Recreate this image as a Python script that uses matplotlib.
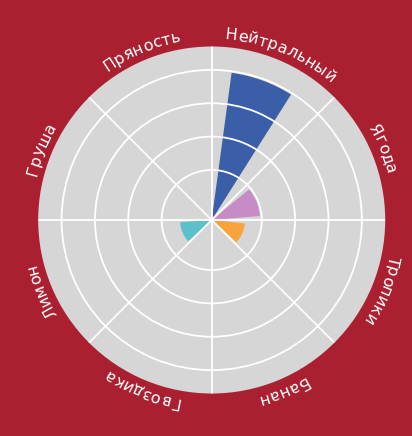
import numpy as np
import matplotlib
matplotlib.use('Agg')
import matplotlib.pyplot as plt
from matplotlib.textpath import TextToPath
from matplotlib.font_manager import FontProperties

# data
categories = ['Нейтральный', 'Ягода', 'Тропики', 'Банан',
              'Гвоздика', 'Лимон', 'Груша', 'Пряность']
values = [89, 29, 20, 0, 0, 19, 0, 0]
colors = ['#3A5FA8', '#C78BC6', '#F9A33C', '#F9A33C',
          '#5BC0C9', '#5BC0C9', '#5BC0C9', '#5BC0C9']
ring_ticks = [30, 50, 70, 90]
r_max = 104

# bar shape tweaks (degrees): offset of bar centre from category centre, bar width
bar_offset = [-2.5, 0.5, 1.5, 0, 0, -0.5, 0, 0]
bar_width = [24.6, 34.6, 36, 36, 36, 38, 36, 36]

bg = '#AA2030'
fig = plt.figure(figsize=(4.12, 4.36), dpi=100, facecolor=bg)
cx, cy, rad = 211.7, 220.0, 173.5
ax = fig.add_axes([(cx - rad) / 412, (436 - cy - rad) / 436, 2 * rad / 412, 2 * rad / 436],
                  projection='polar')
ax.set_facecolor('#D6D6D6')
ax.set_theta_zero_location('N')
ax.set_theta_direction(-1)
ax.set_ylim(0, r_max)

step = 360 / len(categories)
for i, v in enumerate(values):
    if v <= 0:
        continue
    th = np.deg2rad(step / 2 + step * i + bar_offset[i])
    ax.bar(th, v, width=np.deg2rad(bar_width[i]), bottom=0,
           color=colors[i], edgecolor='none', zorder=1)

ax.set_xticks(np.deg2rad(np.arange(0, 360, step)))
ax.set_xticklabels([])
ax.set_yticks(ring_ticks)
ax.set_yticklabels([])
ax.set_axisbelow(False)
ax.grid(True, color='white', linewidth=1.3)
ax.spines['polar'].set_visible(False)
ax.tick_params(length=0)

# curved labels, letters laid clockwise with tops outward
prop = FontProperties(family='DejaVu Sans', size=11.5)
ttp = TextToPath()
r_base_px = 181.0
r_base = r_max * r_base_px / rad
px_per_pt = fig.dpi / 72.0
tracking = 0.2  # extra px between letters
for i, name in enumerate(categories):
    widths = []
    for ch in name:
        w, h, d = ttp.get_text_width_height_descent(ch, prop, ismath=False)
        widths.append(w * px_per_pt + tracking)
    total = sum(widths)
    centre = np.deg2rad(step / 2 + step * i)
    start = centre - (total / 2) / r_base_px
    acc = 0.0
    for ch, w in zip(name, widths):
        th = start + (acc + w / 2) / r_base_px
        acc += w
        ax.text(th, r_base, ch, fontproperties=prop, color='white',
                rotation=-np.rad2deg(th), rotation_mode='anchor',
                ha='center', va='baseline')

fig.savefig('out.png', dpi=100, facecolor=bg)
